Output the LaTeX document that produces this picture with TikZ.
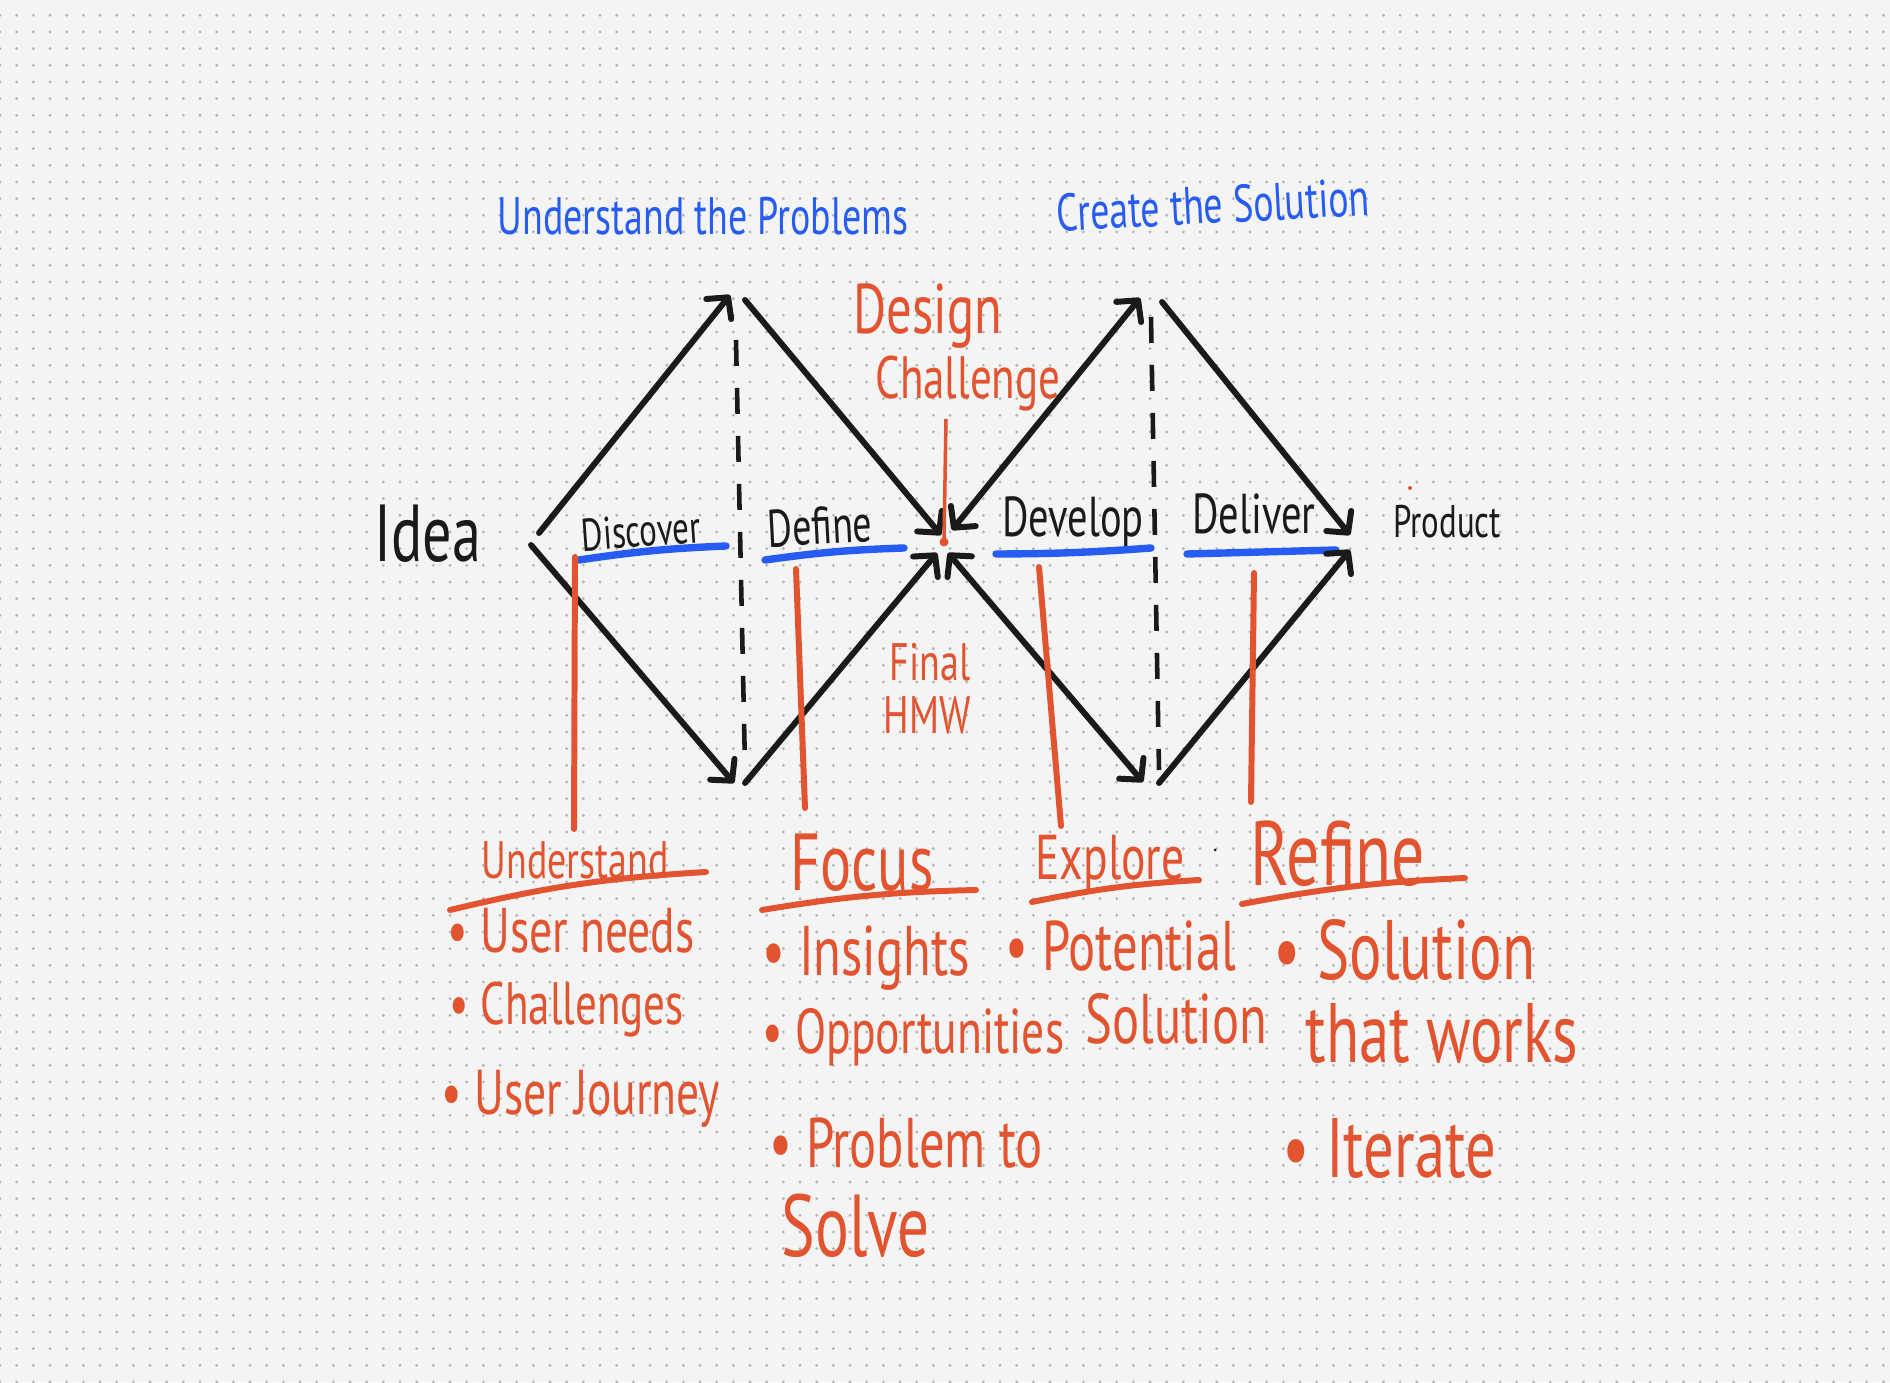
\documentclass[tikz,border=0pt]{standalone}
\usepackage{fontspec}
\setmainfont{PT Sans}
\newfontfamily\penfont[FakeStretch=0.72]{PT Sans}
\usetikzlibrary{arrows.meta,patterns}
\definecolor{penblue}{RGB}{38,92,242}
\definecolor{penred}{RGB}{226,84,48}
\definecolor{penblack}{RGB}{26,26,26}
\definecolor{paper}{RGB}{244,244,244}
\definecolor{griddot}{RGB}{180,180,180}
\newcommand{\pen}[1]{\penfont\fontsize{#1}{#1}\selectfont}
\pgfdeclarepatternformonly{griddots}{\pgfqpoint{-1pt}{-1pt}}{\pgfqpoint{1pt}{1pt}}{\pgfqpoint{4.7424pt}{4.7424pt}}{\pgfpathcircle{\pgfpointorigin}{0.45pt}\pgfusepath{fill}}

\begin{document}
\begin{tikzpicture}[
    >={Straight Barb[length=1.5mm,width=3.2mm,round]},
    pen/.style={draw=penblack, line width=1.7pt, line cap=round},
    dashline/.style={draw=penblack, line width=1.3pt, dash pattern=on 2.6mm off 2.2mm},
    redline/.style={draw=penred, line width=1.7pt, line cap=round},
    blueline/.style={draw=penblue, line width=2.1pt, line cap=round},
    bluetxt/.style={inner sep=0pt, text=penblue},
    blacktxt/.style={inner sep=0pt, text=penblack},
    redtxt/.style={inner sep=0pt, text=penred}
]
    % Paper with dot grid
    \useasboundingbox (0,0) rectangle (18.9,13.82);
    \fill[paper] (0,0) rectangle (18.9,13.82);
    \fill[pattern=griddots, pattern color=griddot] (0,0) rectangle (18.9,13.82);

    % Headings over the two diamonds
    \node[bluetxt, font=\pen{15}] (probl) at (7.03,11.66) {Understand the Problems};
    \node[bluetxt, font=\pen{15}, rotate=3] (solut) at (12.13,11.77) {Create the Solution};

    % Labels along the middle line
    \node[blacktxt, font=\pen{23}] (idea) at (4.28,8.48) {Idea};
    \node[blacktxt, font=\pen{13}, rotate=4] (disc) at (6.41,8.51) {Discover};
    \node[blacktxt, font=\pen{15}, rotate=3] (defi) at (8.20,8.56) {Define};
    \node[blacktxt, font=\pen{16}] (deve) at (10.73,8.60) {Develop};
    \node[blacktxt, font=\pen{16}] (deli) at (12.54,8.68) {Deliver};
    \node[blacktxt, font=\pen{13}] (prod) at (14.47,8.60) {Product};

    % Notes at the middle point
    \node[redtxt, font=\pen{20}] (desi) at (9.28,10.66) {Design};
    \node[redtxt, font=\pen{17}] (chal) at (9.68,9.98) {Challenge};
    \node[redtxt, font=\pen{15}] (fina) at (9.30,7.20) {Final};
    \node[redtxt, font=\pen{15}] (hmw) at (9.27,6.67) {HMW};

    % Headings under the diamonds
    \node[redtxt, font=\pen{15}] (undr) at (5.75,5.22) {Understand};
    \node[redtxt, font=\pen{23}] (focu) at (8.62,5.19) {Focus};
    \node[redtxt, font=\pen{18}] (expl) at (11.10,5.18) {Explore};
    \node[redtxt, font=\pen{26}] (refi) at (13.38,5.28) {Refine};

    % Bullet lists
    \node[redtxt, font=\pen{18}, anchor=west] (und_1) at (4.47,4.51) {• User needs};
    \node[redtxt, font=\pen{17}, anchor=west] (und_2) at (4.49,3.72) {• Challenges};
    \node[redtxt, font=\pen{18}, anchor=west] (und_3) at (4.41,2.83) {• User Journey};
    \node[redtxt, font=\pen{20}, anchor=west] (foc_1) at (7.62,4.24) {• Insights};
    \node[redtxt, font=\pen{18}, anchor=west] (foc_2) at (7.62,3.45) {• Opportunities};
    \node[redtxt, font=\pen{20}, anchor=west] (foc_3) at (7.69,2.39) {• Problem to};
    \node[redtxt, font=\pen{25}, anchor=west] (foc_4) at (7.81,1.56) {Solve};
    \node[redtxt, font=\pen{20}, anchor=west] (exp_1) at (10.05,4.36) {• Potential};
    \node[redtxt, font=\pen{20}, anchor=west] (exp_2) at (10.85,3.63) {Solution};
    \node[redtxt, font=\pen{24}, anchor=west] (ref_1) at (12.73,4.32) {• Solution};
    \node[redtxt, font=\pen{24}, anchor=west] (ref_2) at (13.05,3.49) {that works};
    \node[redtxt, font=\pen{24}, anchor=west] (ref_3) at (12.82,2.34) {• Iterate};

    % Corners of the diamonds
    \coordinate (lu) at (5.39,8.49);
    \coordinate (ld) at (5.31,8.37);
    \coordinate (t1a) at (7.30,10.87);
    \coordinate (t1b) at (7.45,10.82);
    \coordinate (b1a) at (7.34,5.99);
    \coordinate (b1b) at (7.45,5.99);
    \coordinate (cul) at (9.41,8.47);
    \coordinate (cur) at (9.52,8.52);
    \coordinate (cdl) at (9.37,8.29);
    \coordinate (cdr) at (9.48,8.29);
    \coordinate (t2a) at (11.40,10.84);
    \coordinate (t2b) at (11.62,10.80);
    \coordinate (b2a) at (11.43,6.00);
    \coordinate (b2b) at (11.59,5.99);
    \coordinate (ru) at (13.50,8.47);
    \coordinate (rd) at (13.50,8.32);

    % Ends of the red stems
    \coordinate (ctop) at (9.46,9.63);
    \coordinate (cdot) at (9.44,8.40);
    \coordinate (s1a) at (5.75,8.25);
    \coordinate (s1b) at (5.74,5.53);
    \coordinate (s2a) at (7.96,8.13);
    \coordinate (s2b) at (8.05,5.74);
    \coordinate (s3a) at (10.39,8.15);
    \coordinate (s3b) at (10.61,5.56);
    \coordinate (s4a) at (12.54,8.09);
    \coordinate (s4b) at (12.51,5.80);

    % Dashed middles
    \draw[dashline] (7.36,10.42) -- (7.45,6.15);
    \draw[dashline] (11.51,10.65) -- (11.59,6.12);

    % Underlines
    \draw[blueline] (5.79,8.22) to[bend left=3] (7.26,8.36);
    \draw[blueline] (7.65,8.22) to[bend left=3] (9.04,8.34);
    \draw[blueline] (9.96,8.28) to[bend right=2] (11.51,8.34);
    \draw[blueline] (11.87,8.28) -- (13.36,8.32);
    \draw[redline] (4.50,4.72) to[bend left=5] (7.06,5.10);
    \draw[redline] (7.62,4.72) to[bend left=4] (9.76,4.92);
    \draw[redline] (10.32,4.80) to[bend left=4] (11.99,5.02);
    \draw[redline] (12.42,4.78) to[bend left=4] (14.65,5.04);

    % Connections
    \draw[pen, ->] (lu) -- (t1a);
    \draw[pen, ->] (t1b) -- (cul);
    \draw[pen, ->] (ld) -- (b1a);
    \draw[pen, ->] (b1b) -- (cdl);
    \draw[pen, <->] (cur) -- (t2a);
    \draw[pen, ->] (t2b) -- (ru);
    \draw[pen, <->] (cdr) -- (b2a);
    \draw[pen, ->] (b2b) -- (rd);

    \draw[draw=penred, line width=1pt] (ctop) -- (cdot);
    \fill[penred] (cdot) circle (0.045);
    \draw[redline] (s1a) -- (s1b);
    \draw[redline] (s2a) -- (s2b);
    \draw[redline] (s3a) -- (s3b);
    \draw[redline] (s4a) -- (s4b);

    % Stray marks
    \fill[penred] (14.10,8.94) circle (0.02);
    \fill[penblack] (12.15,5.32) circle (0.015);
\end{tikzpicture}
\end{document}
